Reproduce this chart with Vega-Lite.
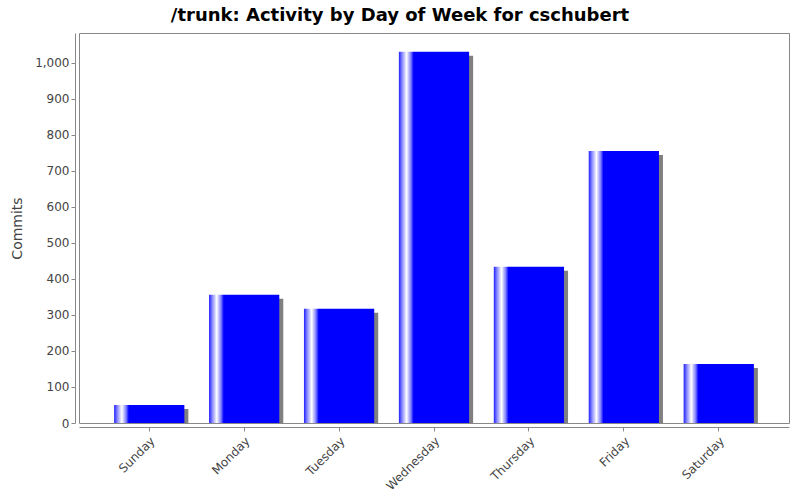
{
  "$schema": "https://vega.github.io/schema/vega-lite/v6.json",
  "width": 710,
  "height": 390,
  "autosize": {"type": "none"},
  "padding": {"left": 79, "top": 33, "right": 11, "bottom": 77},
  "background": "white",
  "title": {
    "text": "/trunk: Activity by Day of Week for cschubert",
    "font": "DejaVu Sans",
    "fontSize": 18,
    "fontWeight": "bold",
    "color": "#000000",
    "anchor": "middle",
    "dx": -34,
    "offset": 8
  },
  "config": {
    "view": {"stroke": "#888888", "strokeWidth": 1, "fill": "white"},
    "axis": {
      "labelFont": "DejaVu Sans",
      "labelFontSize": 12,
      "labelColor": "#444444",
      "titleFont": "DejaVu Sans",
      "titleFontSize": 14,
      "titleFontWeight": "normal",
      "titleColor": "#444444",
      "domainColor": "#888888",
      "tickColor": "#888888",
      "tickSize": 4,
      "grid": false
    }
  },
  "data": {
    "values": [
      {"day": "Sunday", "commits": 50},
      {"day": "Monday", "commits": 356},
      {"day": "Tuesday", "commits": 317},
      {"day": "Wednesday", "commits": 1031},
      {"day": "Thursday", "commits": 434},
      {"day": "Friday", "commits": 755},
      {"day": "Saturday", "commits": 164}
    ]
  },
  "encoding": {
    "x": {
      "field": "day",
      "type": "nominal",
      "sort": null,
      "scale": {"paddingInner": 0.26, "paddingOuter": 0.37},
      "axis": {"title": null, "labelAngle": -45, "offset": 4, "labelPadding": 4}
    },
    "y": {
      "field": "commits",
      "type": "quantitative",
      "scale": {"domain": [0, 1083], "nice": false, "zero": true},
      "axis": {"title": "Commits", "offset": 4, "format": ",.0f", "values": [0,100,200,300,400,500,600,700,800,900,1000], "titlePadding": 10}
    }
  },
  "layer": [
    {
      "mark": {"type": "bar", "color": "#808080", "xOffset": 4, "x2Offset": 4, "yOffset": 4, "clip": true}
    },
    {
      "mark": {
        "type": "bar",
        "color": {
          "gradient": "linear",
          "x1": 0, "x2": 1, "y1": 0, "y2": 0,
          "stops": [
            {"offset": 0, "color": "#2020ff"},
            {"offset": 0.05, "color": "#9090ff"},
            {"offset": 0.11, "color": "#ffffff"},
            {"offset": 0.17, "color": "#8080ff"},
            {"offset": 0.21, "color": "#0000ff"},
            {"offset": 1, "color": "#0000ff"}
          ]
        }
      }
    }
  ]
}
